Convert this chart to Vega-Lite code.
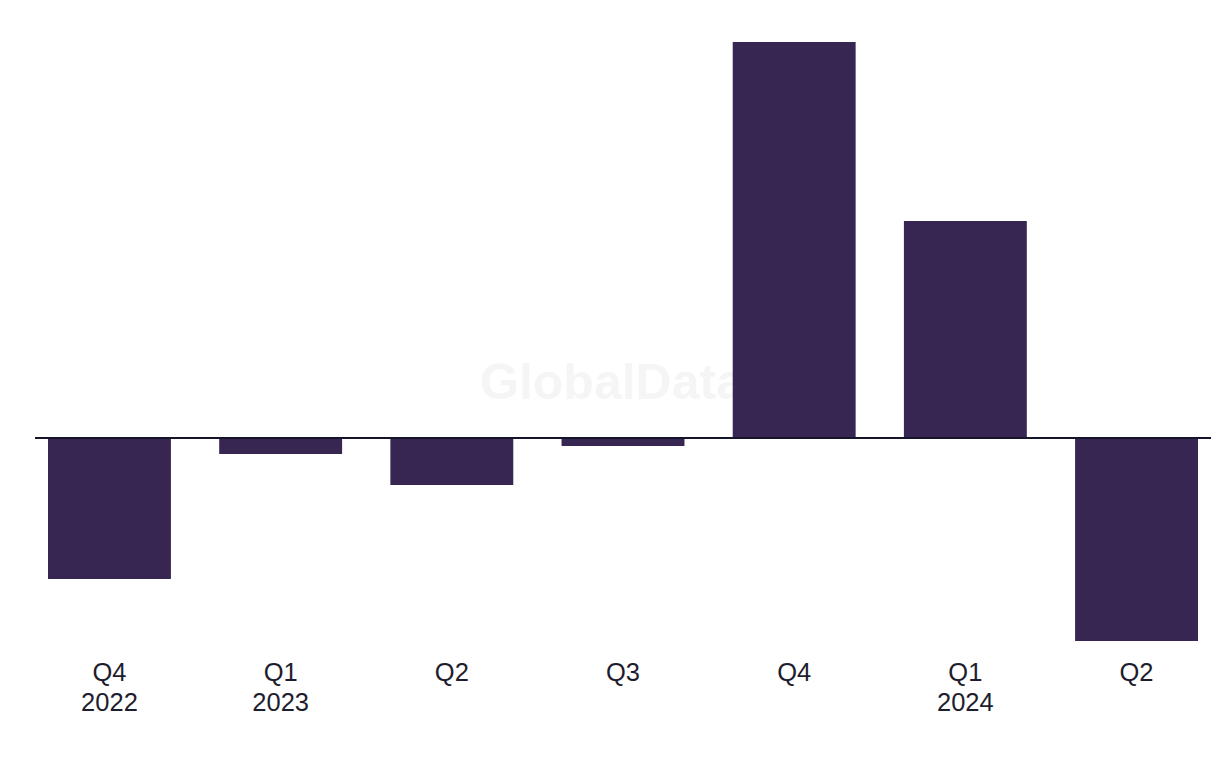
{
  "$schema": "https://vega.github.io/schema/vega-lite/v6.json",
  "width": 1176,
  "height": 599,
  "autosize": {"type": "none"},
  "padding": {"left": 35, "top": 42, "right": 9, "bottom": 127},
  "background": "#ffffff",
  "config": {"view": {"stroke": null}},
  "data": {
    "values": [
      {"period": "Q4 2022", "value": -14.1},
      {"period": "Q1 2023", "value": -1.6},
      {"period": "Q2 2023", "value": -4.7},
      {"period": "Q3 2023", "value": -0.8},
      {"period": "Q4 2023", "value": 39.6},
      {"period": "Q1 2024", "value": 21.7},
      {"period": "Q2 2024", "value": -20.3}
    ]
  },
  "encoding": {
    "x": {
      "field": "period",
      "type": "nominal",
      "sort": ["Q4 2022", "Q1 2023", "Q2 2023", "Q3 2023", "Q4 2023", "Q1 2024", "Q2 2024"],
      "scale": {"domain": ["Q4 2022", "Q1 2023", "Q2 2023", "Q3 2023", "Q4 2023", "Q1 2024", "Q2 2024"], "paddingInner": 0.282, "paddingOuter": 0.076},
      "axis": {
        "title": null,
        "domain": false,
        "ticks": false,
        "labelAngle": 0,
        "labelFont": "Liberation Sans",
        "labelFontSize": 25.5,
        "labelColor": "#1e1d2e",
        "labelPadding": 19,
        "labelLineHeight": 30,
        "labelExpr": "(datum.label == 'Q4 2022' || indexof(datum.label, 'Q1') == 0) ? split(datum.label, ' ') : slice(datum.label, 0, 2)"
      }
    }
  },
  "layer": [
    {
      "transform": [{"filter": "datum.period == 'Q3 2023'"}],
      "mark": {
        "type": "text",
        "text": "GlobalData",
        "font": "Liberation Sans",
        "fontWeight": "bold",
        "fontSize": 50,
        "align": "center",
        "baseline": "middle",
        "dx": -11,
        "color": "#f5f5f5"
      },
      "encoding": {
        "y": {"datum": 5.4, "type": "quantitative", "axis": null}
      }
    },
    {
      "mark": {"type": "bar", "color": "#372552"},
      "encoding": {
        "y": {
          "field": "value",
          "type": "quantitative",
          "scale": {"domain": [-20.3, 39.6], "nice": false},
          "axis": null
        }
      }
    },
    {
      "mark": {"type": "rule", "color": "#15142a", "strokeWidth": 2},
      "encoding": {"y": {"datum": 0, "type": "quantitative", "axis": null}, "x": {"value": 0}, "x2": {"value": 1176}}
    }
  ]
}
